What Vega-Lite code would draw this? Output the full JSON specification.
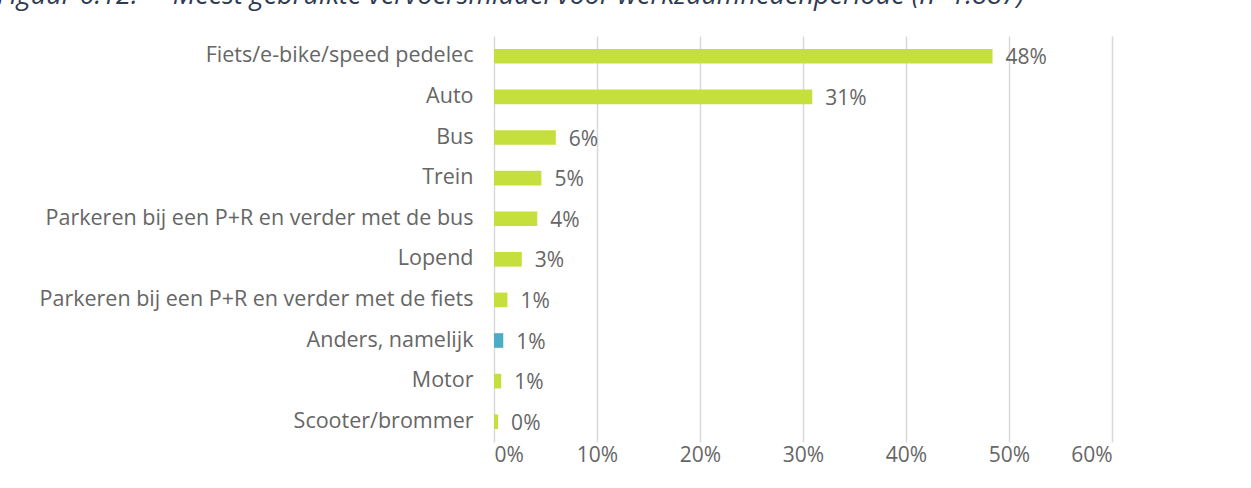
{
  "$schema": "https://vega.github.io/schema/vega-lite/v6.json",
  "autosize": {"type": "none"},
  "padding": {"left": 494, "top": 36, "right": 139, "bottom": 46},
  "width": 618,
  "height": 406,
  "background": "white",
  "title": {
    "text": "Figuur 6.12:\u00a0\u00a0\u00a0\u00a0 Meest gebruikte vervoersmiddel voor werkzaamhedenperiode (n=1.887)",
    "anchor": "start",
    "frame": "group",
    "orient": "top",
    "offset": 0,
    "dx": -497,
    "dy": -5,
    "baseline": "alphabetic",
    "font": "Open Sans",
    "fontSize": 27,
    "fontStyle": "italic",
    "fontWeight": 500,
    "color": "#2f3b52"
  },
  "data": {
    "values": [
      {"vervoer": "Fiets/e-bike/speed pedelec", "aandeel": 0.484, "groep": "regulier"},
      {"vervoer": "Auto", "aandeel": 0.309, "groep": "regulier"},
      {"vervoer": "Bus", "aandeel": 0.060, "groep": "regulier"},
      {"vervoer": "Trein", "aandeel": 0.046, "groep": "regulier"},
      {"vervoer": "Parkeren bij een P+R en verder met de bus", "aandeel": 0.042, "groep": "regulier"},
      {"vervoer": "Lopend", "aandeel": 0.027, "groep": "regulier"},
      {"vervoer": "Parkeren bij een P+R en verder met de fiets", "aandeel": 0.013, "groep": "regulier"},
      {"vervoer": "Anders, namelijk", "aandeel": 0.009, "groep": "anders"},
      {"vervoer": "Motor", "aandeel": 0.007, "groep": "regulier"},
      {"vervoer": "Scooter/brommer", "aandeel": 0.004, "groep": "regulier"}
    ]
  },
  "encoding": {
    "y": {
      "field": "vervoer",
      "type": "nominal",
      "sort": null,
      "scale": {"paddingInner": 0.64, "paddingOuter": 0.32},
      "axis": {
        "title": null,
        "domain": false,
        "ticks": false,
        "labelPadding": 21,
        "labelFont": "Open Sans",
        "labelFontSize": 21.5,
        "labelColor": "#666666",
        "labelLimit": 600
      }
    },
    "x": {
      "field": "aandeel",
      "type": "quantitative",
      "scale": {"domain": [0, 0.6], "nice": false},
      "axis": {
        "title": null,
        "format": ".0%",
        "values": [0, 0.1, 0.2, 0.3, 0.4, 0.5, 0.6],
        "domain": false,
        "ticks": false,
        "grid": true,
        "gridColor": "#d9d9d9",
        "gridWidth": 1.5,
        "labelPadding": 2,
        "labelFont": "Open Sans",
        "labelFontSize": 21,
        "labelColor": "#666666"
      }
    }
  },
  "layer": [
    {
      "mark": {"type": "bar"},
      "encoding": {
        "color": {
          "field": "groep",
          "type": "nominal",
          "scale": {"domain": ["regulier", "anders"], "range": ["#c5df3c", "#4bacc6"]},
          "legend": null
        }
      }
    },
    {
      "mark": {"type": "text", "align": "left", "baseline": "middle", "dx": 13, "dy": 2, "font": "Open Sans", "fontSize": 21, "color": "#666666"},
      "encoding": {
        "text": {"field": "aandeel", "type": "quantitative", "format": ".0%"}
      }
    }
  ],
  "config": {"view": {"stroke": null}}
}
